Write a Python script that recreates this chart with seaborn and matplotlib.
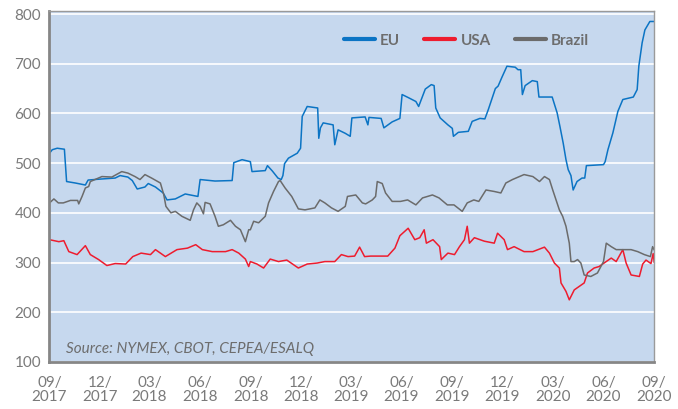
import pandas as pd
import matplotlib
matplotlib.use("Agg")
import matplotlib.pyplot as plt
import matplotlib.dates as mdates
from matplotlib.lines import Line2D
import seaborn as sns

# prices (date, value)
eu_dates = [
    "2017-09-01", "2017-09-06", "2017-09-15", "2017-09-28", "2017-10-02", "2017-10-18",
    "2017-11-05", "2017-11-10", "2017-12-03", "2017-12-29", "2018-01-07", "2018-01-21",
    "2018-01-29", "2018-02-07", "2018-02-21", "2018-02-27", "2018-03-12", "2018-03-26",
    "2018-04-02", "2018-04-17", "2018-05-05", "2018-05-14", "2018-05-28", "2018-06-01",
    "2018-06-28", "2018-07-29", "2018-08-01", "2018-08-16", "2018-08-31", "2018-09-03",
    "2018-09-27", "2018-10-01", "2018-10-10", "2018-10-20", "2018-10-26", "2018-10-29",
    "2018-11-01", "2018-11-08", "2018-11-24", "2018-11-30", "2018-12-03", "2018-12-12",
    "2018-12-31", "2019-01-02", "2019-01-05", "2019-01-10", "2019-01-28", "2019-01-31",
    "2019-02-06", "2019-02-19", "2019-02-28", "2019-03-03", "2019-03-27", "2019-04-01",
    "2019-04-03", "2019-04-25", "2019-04-30", "2019-05-15", "2019-05-29", "2019-06-02",
    "2019-06-13", "2019-06-27", "2019-07-02", "2019-07-14", "2019-07-25", "2019-07-30",
    "2019-08-02", "2019-08-10", "2019-08-24", "2019-09-01", "2019-09-03", "2019-09-12",
    "2019-09-30", "2019-10-07", "2019-10-21", "2019-10-30", "2019-11-05", "2019-11-18",
    "2019-11-23", "2019-11-30", "2019-12-09", "2019-12-24", "2019-12-29", "2020-01-03",
    "2020-01-06", "2020-01-11", "2020-01-24", "2020-02-02", "2020-02-05", "2020-02-29",
    "2020-03-09", "2020-03-14", "2020-03-20", "2020-03-25", "2020-03-29", "2020-04-03",
    "2020-04-07", "2020-04-14", "2020-04-23", "2020-04-28", "2020-05-01", "2020-06-01",
    "2020-06-04", "2020-06-09", "2020-06-18", "2020-06-27", "2020-07-06", "2020-07-25",
    "2020-08-01", "2020-08-04", "2020-08-10", "2020-08-15", "2020-08-24", "2020-09-01",
]
eu_values = [
    520, 527, 530, 528, 463, 460,
    456, 466, 468, 470, 475, 472,
    465, 448, 452, 459, 452, 440,
    426, 428, 438, 436, 433, 467,
    464, 465, 501, 507, 503, 483,
    485, 495, 484, 470, 467, 475,
    499, 510, 520, 530, 594, 614,
    611, 550, 571, 581, 577, 537,
    567, 560, 554, 591, 593, 577,
    592, 590, 571, 583, 590, 638,
    632, 624, 614, 649, 658, 656,
    611, 591, 577, 570, 554, 562,
    564, 584, 590, 589, 607, 650,
    655, 673, 695, 693, 688, 688,
    638, 656, 666, 664, 633, 633,
    601, 574, 540, 507, 487, 475,
    446, 463, 470, 470, 495, 497,
    503, 527, 561, 604, 628, 633,
    648, 695, 742, 768, 785, 785,
]

usa_dates = [
    "2017-09-01", "2017-09-18", "2017-09-27", "2017-10-06", "2017-10-21", "2017-11-05",
    "2017-11-14", "2017-11-29", "2017-12-14", "2017-12-29", "2018-01-17", "2018-01-30",
    "2018-02-14", "2018-03-03", "2018-03-12", "2018-03-30", "2018-04-20", "2018-05-09",
    "2018-05-24", "2018-06-05", "2018-06-23", "2018-07-17", "2018-07-29", "2018-08-10",
    "2018-08-22", "2018-08-28", "2018-08-31", "2018-09-12", "2018-09-24", "2018-10-06",
    "2018-10-21", "2018-11-05", "2018-11-26", "2018-12-12", "2018-12-30", "2019-01-13",
    "2019-01-31", "2019-02-12", "2019-02-24", "2019-03-08", "2019-03-17", "2019-03-26",
    "2019-04-06", "2019-05-07", "2019-05-20", "2019-05-29", "2019-06-13", "2019-06-25",
    "2019-07-04", "2019-07-12", "2019-07-16", "2019-07-28", "2019-08-09", "2019-08-12",
    "2019-08-24", "2019-09-05", "2019-09-14", "2019-09-23", "2019-09-28", "2019-10-02",
    "2019-10-11", "2019-10-29", "2019-11-16", "2019-11-22", "2019-12-04", "2019-12-10",
    "2019-12-22", "2020-01-09", "2020-01-25", "2020-02-15", "2020-02-24", "2020-03-04",
    "2020-03-13", "2020-03-16", "2020-03-25", "2020-03-31", "2020-04-09", "2020-04-18",
    "2020-04-27", "2020-05-03", "2020-05-15", "2020-05-24", "2020-06-02", "2020-06-15",
    "2020-06-24", "2020-07-06", "2020-07-12", "2020-07-21", "2020-08-05", "2020-08-11",
    "2020-08-17", "2020-08-26", "2020-08-30", "2020-09-01",
]
usa_values = [
    346, 342, 344, 322, 316, 334,
    316, 306, 294, 298, 297, 312,
    319, 316, 326, 312, 326, 329,
    336, 326, 322, 322, 326, 319,
    307, 292, 302, 297, 289, 307,
    302, 305, 289, 297, 299, 302,
    302, 316, 312, 313, 331, 312,
    313, 313, 329, 354, 369, 346,
    350, 366, 339, 346, 332, 306,
    319, 316, 332, 346, 373, 339,
    350, 343, 339, 359, 346, 326,
    332, 322, 322, 331, 319, 299,
    289, 259, 242, 225, 245, 252,
    259, 279, 289, 292, 299, 309,
    302, 326, 299, 275, 272, 297,
    305, 298, 318, 300,
]

brazil_dates = [
    "2017-09-01", "2017-09-09", "2017-09-17", "2017-09-26", "2017-10-09", "2017-10-22",
    "2017-10-24", "2017-10-30", "2017-11-05", "2017-11-11", "2017-11-14", "2017-12-05",
    "2017-12-23", "2018-01-10", "2018-01-21", "2018-02-03", "2018-02-12", "2018-02-21",
    "2018-03-05", "2018-03-21", "2018-03-27", "2018-03-31", "2018-04-09", "2018-04-17",
    "2018-04-29", "2018-05-14", "2018-05-20", "2018-05-26", "2018-06-01", "2018-06-07",
    "2018-06-10", "2018-06-19", "2018-06-28", "2018-07-04", "2018-07-13", "2018-07-26",
    "2018-08-04", "2018-08-13", "2018-08-22", "2018-08-28", "2018-08-31", "2018-09-06",
    "2018-09-15", "2018-09-27", "2018-10-03", "2018-10-12", "2018-10-21", "2018-10-24",
    "2018-11-02", "2018-11-14", "2018-11-26", "2018-12-08", "2018-12-26", "2019-01-04",
    "2019-01-13", "2019-01-25", "2019-02-06", "2019-02-19", "2019-02-23", "2019-03-10",
    "2019-03-22", "2019-03-28", "2019-04-09", "2019-04-15", "2019-04-18", "2019-04-27",
    "2019-05-03", "2019-05-15", "2019-05-30", "2019-06-12", "2019-06-27", "2019-07-09",
    "2019-07-27", "2019-08-08", "2019-08-23", "2019-09-04", "2019-09-19", "2019-09-28",
    "2019-10-10", "2019-10-19", "2019-11-01", "2019-11-16", "2019-11-28", "2019-12-07",
    "2019-12-19", "2020-01-09", "2020-01-25", "2020-02-06", "2020-02-15", "2020-02-24",
    "2020-03-01", "2020-03-07", "2020-03-13", "2020-03-19", "2020-03-25", "2020-03-31",
    "2020-04-03", "2020-04-09", "2020-04-15", "2020-04-21", "2020-04-27", "2020-05-09",
    "2020-05-21", "2020-06-01", "2020-06-06", "2020-06-15", "2020-06-24", "2020-07-21",
    "2020-08-02", "2020-08-14", "2020-08-25", "2020-08-29", "2020-09-01",
]
brazil_values = [
    420, 428, 420, 420, 425, 425,
    418, 433, 450, 453, 463, 473,
    472, 483, 480, 473, 467, 477,
    470, 460, 437, 413, 400, 403,
    393, 385, 406, 420, 413, 398,
    421, 418, 393, 373, 376, 385,
    373, 366, 342, 366, 366, 383,
    380, 393, 420, 443, 463, 465,
    450, 433, 408, 406, 410, 426,
    420, 410, 403, 413, 433, 436,
    420, 418, 426, 433, 463, 459,
    440, 423, 423, 426, 416, 430,
    436, 430, 416, 416, 403, 420,
    426, 423, 446, 443, 440, 460,
    467, 477, 473, 463, 473, 467,
    446, 426, 406, 393, 373, 339,
    302, 302, 306, 299, 275, 272,
    279, 302, 339, 332, 326, 326,
    322, 316, 312, 332, 325,
]

series_names = ["EU", "USA", "Brazil"]
series_colors = ["#0B74C4", "#EE1C2E", "#6B6B6B"]
x_tick_dates = pd.date_range("2017-09-01", "2020-09-01", freq="3MS")

frames = []
for name, dates, values in zip(series_names,
                               [eu_dates, usa_dates, brazil_dates],
                               [eu_values, usa_values, brazil_values]):
    frames.append(pd.DataFrame({"date": pd.to_datetime(dates), "price": values, "market": name}))
df = pd.concat(frames, ignore_index=True)

sns.set_theme(style="white")
plt.rcParams["font.family"] = ["Lato", "DejaVu Sans"]

grey_text = "#7a7a7a"
fig = plt.figure(figsize=(6.78, 4.09), dpi=100)
ax = fig.add_axes([0.073, 0.115, 0.892, 0.858])
ax.set_facecolor("#C6D8EE")

sns.lineplot(data=df, x="date", y="price", hue="market", hue_order=series_names,
             palette=dict(zip(series_names, series_colors)), linewidth=1.1,
             estimator=None, legend=False, ax=ax)

ax.set_xlim(x_tick_dates[0], x_tick_dates[-1])
ax.set_ylim(100, 806)
ax.set_yticks(range(100, 801, 100))
ax.set_xticks(x_tick_dates)
ax.xaxis.set_major_formatter(mdates.DateFormatter("%m/\n%Y"))
ax.grid(axis="y", color="white", linewidth=1.2)
ax.set_axisbelow(True)
ax.set_xlabel("")
ax.set_ylabel("")
ax.tick_params(axis="y", length=0, labelsize=11, labelcolor=grey_text, pad=6)
ax.tick_params(axis="x", length=0, labelsize=11, labelcolor=grey_text, pad=10)
for lbl in ax.get_xticklabels():
    lbl.set_linespacing(1.0)

for side in ["left", "bottom"]:
    ax.spines[side].set_color("#868686")
    ax.spines[side].set_linewidth(2)
for side in ["top", "right"]:
    ax.spines[side].set_color("#9a9a9a")
    ax.spines[side].set_linewidth(1)

handles = [Line2D([], [], color=c, linewidth=3) for c in series_colors]
ax.legend(handles, series_names, loc="upper right", bbox_to_anchor=(0.915, 0.975),
          ncol=3, frameon=False, handlelength=2.0, columnspacing=1.6, handletextpad=0.35,
          prop={"size": 11, "weight": "bold"}, labelcolor="#6d6d6d")

ax.text(0.027, 0.025, "Source: NYMEX, CBOT, CEPEA/ESALQ", transform=ax.transAxes,
        fontsize=11, style="italic", color="#6d6d6d")

fig.savefig("out.png", dpi=100)
